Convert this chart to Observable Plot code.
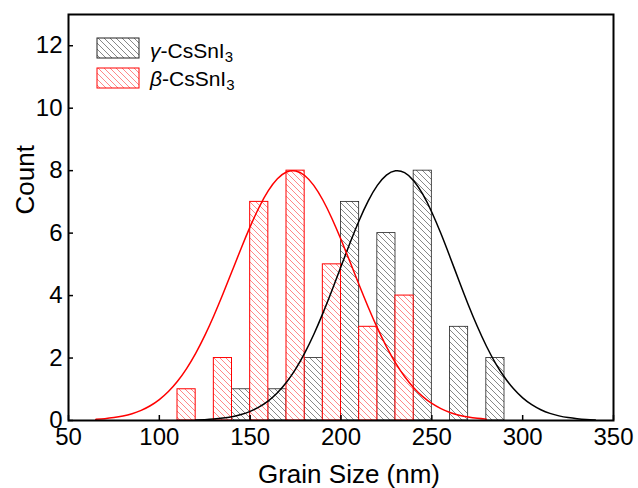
<!DOCTYPE html>
<html><head><meta charset="utf-8">
<script src="https://cdn.jsdelivr.net/npm/d3@7"></script>
<script src="https://cdn.jsdelivr.net/npm/@observablehq/plot@0.6"></script>
<style>body{margin:0;background:#fff} #chart{width:638px;height:488px}</style>
</head><body><div id="chart"></div>
<script>
const xTicks = [50, 100, 150, 200, 250, 300, 350];
const yTicks = [0, 2, 4, 6, 8, 10, 12];
const binWidth = 10;

const gammaBinStart = [140, 160, 180, 200, 220, 240, 260, 280];
const gammaCount    = [1, 1, 2, 7, 6, 8, 3, 2];
const betaBinStart  = [110, 130, 150, 170, 190, 210, 230];
const betaCount     = [1, 2, 7, 8, 5, 3, 4];

const gammaFitX = [120,125,130,135,140,145,150,155,160,165,170,175,180,185,190,195,200,205,210,215,220,225,230,235,240,245,250,255,260,265,270,275,280,285,290,295,300,305,310,315,320,325,330,335,340];
const gammaFitY = [0.016,0.028,0.047,0.077,0.123,0.193,0.293,0.436,0.631,0.891,1.227,1.647,2.157,2.754,3.430,4.163,4.930,5.690,6.405,7.032,7.527,7.856,7.996,7.936,7.680,7.248,6.670,5.985,5.237,4.468,3.717,3.016,2.386,1.841,1.385,1.015,0.726,0.507,0.345,0.229,0.148,0.093,0.057,0.034,0.020];
const betaFitX = [65,70,75,80,85,90,95,100,105,110,115,120,125,130,135,140,145,150,155,160,165,170,175,180,185,190,195,200,205,210,215,220,225,230,235,240,245,250,255,260,265,270,275,280];
const betaFitY = [0.036,0.058,0.093,0.144,0.219,0.326,0.472,0.670,0.928,1.257,1.663,2.150,2.717,3.356,4.050,4.778,5.510,6.208,6.837,7.358,7.739,7.955,7.992,7.846,7.529,7.060,6.470,5.795,5.073,4.339,3.628,2.964,2.367,1.847,1.409,1.050,0.765,0.545,0.379,0.258,0.171,0.111,0.071,0.044];

const seriesNames = ["γ", "β"];
const compound = "CsSnI";
const xTitle = "Grain Size (nm)";
const yTitle = "Count";

const gammaBars = gammaBinStart.map((x, i) => ({x1: x, x2: x + binWidth, y: gammaCount[i]}));
const betaBars = betaBinStart.map((x, i) => ({x1: x, x2: x + binWidth, y: betaCount[i]}));
const gammaFit = gammaFitX.map((x, i) => ({x, y: gammaFitY[i]}));
const betaFit = betaFitX.map((x, i) => ({x, y: betaFitY[i]}));

const font = "'Liberation Sans', Arial, sans-serif";

const svg = Plot.plot({
  width: 638, height: 488,
  marginLeft: 68, marginRight: 25, marginTop: 14, marginBottom: 68,
  style: {fontFamily: font, fontSize: "24px", background: "#fff", color: "#000"},
  x: {domain: [50, 350]},
  y: {domain: [0, 13]},
  marks: [
    Plot.rectY(gammaBars, {x1: "x1", x2: "x2", y: "y", fill: "url(#hatchK)", stroke: "#222", strokeWidth: 0.8}),
    Plot.rectY(betaBars, {x1: "x1", x2: "x2", y: "y", fill: "url(#hatchR)", stroke: "#ff0000", strokeWidth: 1}),
    Plot.line(gammaFit, {x: "x", y: "y", stroke: "#000", strokeWidth: 1.5, curve: "natural"}),
    Plot.line(betaFit, {x: "x", y: "y", stroke: "#ff0000", strokeWidth: 1.5, curve: "natural"}),
    Plot.axisX({ticks: xTicks, tickSize: -5, tickPadding: 12, label: null, fontSize: 24, strokeWidth: 1.5}),
    Plot.axisY({ticks: yTicks, tickSize: -5, tickPadding: 11, label: null, fontSize: 24, strokeWidth: 1.5}),
    Plot.text([xTitle], {text: d => d, frameAnchor: "bottom", dx: 8, dy: 62, fontSize: 26, lineAnchor: "bottom"}),
    Plot.text([yTitle], {text: d => d, frameAnchor: "left", dx: -35, dy: -3, rotate: -90, fontSize: 26, lineAnchor: "bottom"}),
    Plot.frame({stroke: "#000", strokeWidth: 2})
  ]
});

const defs = d3.select(svg).insert("defs", ":first-child");
function hatch(id, color, w) {
  const p = defs.append("pattern").attr("id", id).attr("patternUnits", "userSpaceOnUse")
    .attr("width", 6).attr("height", 6);
  p.append("rect").attr("width", 6).attr("height", 6).attr("fill", "#fff");
  p.append("path").attr("d", "M-1,-1L7,7M5,-1L7,1M-1,5L1,7")
    .attr("stroke", color).attr("stroke-width", w).attr("fill", "none");
}
hatch("hatchK", "#555", 0.7);
hatch("hatchR", "#ff6a6a", 0.8);

const leg = d3.select(svg).append("g").attr("font-family", font).attr("font-size", 21)
  .attr("text-anchor", "start");
const items = [
  {name: seriesNames[0], fill: "url(#hatchK)", stroke: "#222", boxTop: 38, baseline: 58},
  {name: seriesNames[1], fill: "url(#hatchR)", stroke: "#ff0000", boxTop: 68, baseline: 85.5}
];
items.forEach(it => {
  leg.append("rect").attr("x", 97).attr("y", it.boxTop).attr("width", 42).attr("height", 20)
    .attr("fill", it.fill).attr("stroke", it.stroke).attr("stroke-width", 1);
  const t = leg.append("text").attr("x", 150).attr("y", it.baseline).attr("fill", "#000");
  t.append("tspan").attr("font-style", "italic").text(it.name);
  t.append("tspan").text("-" + compound);
  t.append("tspan").attr("font-size", 15).attr("dy", 4).text("3");
});

document.getElementById("chart").appendChild(svg);
</script>
</body></html>
